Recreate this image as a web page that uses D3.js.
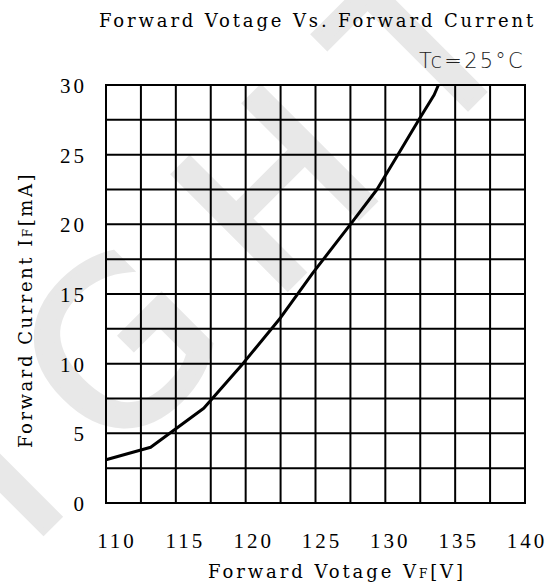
<!DOCTYPE html>
<html>
<head>
<meta charset="utf-8">
<script src="https://cdn.jsdelivr.net/npm/d3@7"></script>
<style>
  body { margin: 0; background: #fff; }
  text { font-family: "Liberation Serif", serif; fill: #000; }
  .ttl { font-family: "DejaVu Serif", serif; }
</style>
</head>
<body>
<div id="chart-area"></div>
<script>
/******************************
*			DATA			  *
******************************/
var vfTicks = [110, 115, 120, 125, 130, 135, 140];
var ifTicks = [0, 5, 10, 15, 20, 25, 30];

// curve
var vfValues = [110, 113.2, 117.0, 119.8, 122.5, 124.8, 127.5, 129.4, 130.9, 132.4, 133.5, 133.8];
var ifValues = [3.1, 4.0, 6.8, 10.0, 13.3, 16.5, 20.0, 22.5, 25.0, 27.5, 29.3, 30.0];

/******************************
*	DIMENSIONS AND MARGINS	  *
******************************/
var W = 558, H = 585;
var margin = { top: 85, right: 33, bottom: 82, left: 106 };
var width = W - margin.left - margin.right,
	height = H - margin.top - margin.bottom;

var svg = d3.select("#chart-area")
	.append("svg")
		.attr("width", W)
		.attr("height", H);

svg.append("rect").attr("width", W).attr("height", H).attr("fill", "#fff");

// faint watermark behind everything
svg.append("text")
	.attr("x", -367)
	.attr("y", 407)
	.attr("transform", "rotate(-45)")
	.style("font-family", "DejaVu Sans")
	.style("font-size", "220px")
	.style("letter-spacing", "55px")
	.style("fill", "#e8e8e8")
	.style("stroke", "#e8e8e8")
	.style("stroke-width", 6)
	.text("IGHT");

var g = svg.append("g")
	.attr("transform", "translate(" + margin.left + ", " + margin.top + ")");

/******************************
*			SCALES			  *
******************************/
var x = d3.scaleLinear().domain([110, 140]).range([0, width]);
var y = d3.scaleLinear().domain([0, 30]).range([height, 0]);
// tick labels sit a little right of their grid lines
var xLab = d3.scaleLinear().domain([110, 140]).range([11, 421]);

/******************************
*			GRID			  *
******************************/
var gridX = d3.range(110, 140.1, 2.5);
var gridY = d3.range(0, 30.1, 2.5);

g.selectAll(".gx").data(gridX).enter().append("line")
	.attr("x1", d => x(d)).attr("x2", d => x(d))
	.attr("y1", 0).attr("y2", height)
	.attr("stroke", "#000").attr("stroke-width", 2);

g.selectAll(".gy").data(gridY).enter().append("line")
	.attr("x1", 0).attr("x2", width)
	.attr("y1", d => y(d)).attr("y2", d => y(d))
	.attr("stroke", "#000").attr("stroke-width", 2);

g.append("rect")
	.attr("width", width).attr("height", height)
	.attr("fill", "none").attr("stroke", "#000").attr("stroke-width", 2);

/******************************
*		  TICK LABELS		  *
******************************/
g.selectAll(".xl").data(vfTicks).enter().append("text")
	.attr("x", d => xLab(d))
	.attr("y", height + 45)
	.attr("text-anchor", "middle")
	.style("font-size", "21px")
	.style("letter-spacing", "3px")
	.text(d => d);

g.selectAll(".yl").data(ifTicks).enter().append("text")
	.attr("x", -19)
	.attr("y", d => y(d))
	.attr("dy", "0.38em")
	.attr("text-anchor", "end")
	.style("font-size", "21px")
	.style("letter-spacing", "3px")
	.text(d => d);

/******************************
*			CURVE			  *
******************************/
var pts = vfValues.map((v, i) => [v, ifValues[i]]);
var line = d3.line()
	.x(d => x(d[0]))
	.y(d => y(d[1]));

g.append("path")
	.datum(pts)
	.attr("d", line)
	.attr("fill", "none")
	.attr("stroke", "#000")
	.attr("stroke-width", 3)
	.attr("stroke-linejoin", "round");

/******************************
*			TITLES			  *
******************************/
// stretch text to the width it has in the picture
function fit(t, target) {
	var n = t.text().length;
	var w = t.node().getComputedTextLength();
	t.style("letter-spacing", ((target - w) / n) + "px");
}

var title = svg.append("text")
	.attr("class", "ttl")
	.attr("x", 99).attr("y", 27)
	.style("font-size", "18px")
	.text("Forward Votage Vs. Forward Current");
fit(title, 437);

var tc = svg.append("text")
	.attr("x", 419).attr("y", 68)
	.style("font-family", "DejaVu Sans")
	.style("font-weight", 200)
	.style("font-size", "21px")
	.style("fill", "#222")
	.text("Tc=25°C");
fit(tc, 106);

var xTitle = svg.append("text")
	.attr("class", "ttl")
	.attr("x", 208).attr("y", 578)
	.style("font-size", "18px");
xTitle.append("tspan").text("Forward Votage V");
xTitle.append("tspan").style("font-size", "12px").text("F");
xTitle.append("tspan").text("[V]");
fit(xTitle, 258);

var yTitle = svg.append("text")
	.attr("class", "ttl")
	.attr("transform", "translate(32,448) rotate(-90)")
	.style("font-size", "18px");
yTitle.append("tspan").text("Forward Current I");
yTitle.append("tspan").style("font-size", "12px").text("F");
yTitle.append("tspan").text("[mA]");
fit(yTitle, 276);
</script>
</body>
</html>
